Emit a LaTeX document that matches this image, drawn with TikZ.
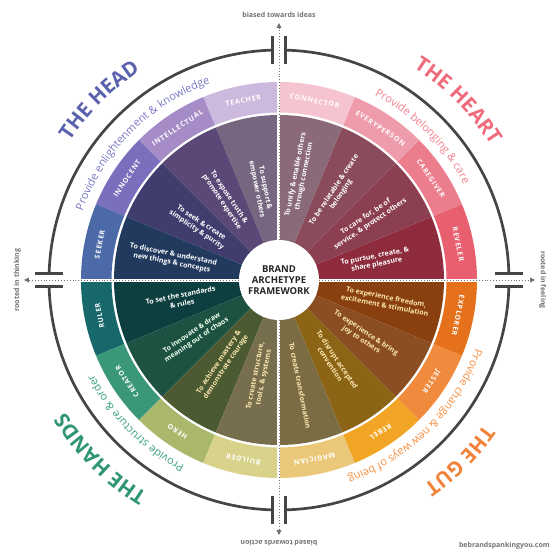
\documentclass[tikz,border=0pt]{standalone}
\usepackage{fontspec}
\setmainfont{Open Sans}
\newfontfamily\ringfont[LetterSpace=12]{Open Sans}
\usetikzlibrary{decorations.text,arrows.meta}

\definecolor{teachR}{HTML}{CDB9DD}\definecolor{teachW}{HTML}{766680}
\definecolor{intelR}{HTML}{A58CC7}\definecolor{intelW}{HTML}{5B4876}
\definecolor{innoR}{HTML}{7A6FBD}\definecolor{innoW}{HTML}{403D6E}
\definecolor{seekR}{HTML}{4D6AA8}\definecolor{seekW}{HTML}{213A5E}
\definecolor{connR}{HTML}{F6C4D0}\definecolor{connW}{HTML}{8A6A78}
\definecolor{everyR}{HTML}{EE9CAB}\definecolor{everyW}{HTML}{8A4C5C}
\definecolor{careR}{HTML}{EC7D8D}\definecolor{careW}{HTML}{8C3F50}
\definecolor{revR}{HTML}{E85F70}\definecolor{revW}{HTML}{8E2C3E}
\definecolor{explR}{HTML}{E5711D}\definecolor{explW}{HTML}{8A3F0E}
\definecolor{jestR}{HTML}{F08A3C}\definecolor{jestW}{HTML}{8A4E22}
\definecolor{rebR}{HTML}{F2A524}\definecolor{rebW}{HTML}{8C6416}
\definecolor{magR}{HTML}{EBC879}\definecolor{magW}{HTML}{7C6C44}
\definecolor{rulR}{HTML}{17686A}\definecolor{rulW}{HTML}{0E3F40}
\definecolor{creR}{HTML}{3B977A}\definecolor{creW}{HTML}{1D5242}
\definecolor{heroR}{HTML}{A9B86B}\definecolor{heroW}{HTML}{4B5A30}
\definecolor{buildR}{HTML}{D9D28B}\definecolor{buildW}{HTML}{776E4E}
\definecolor{headT}{HTML}{5A62AD}\definecolor{headS}{HTML}{7877C6}
\definecolor{heartT}{HTML}{EF6B7B}\definecolor{heartS}{HTML}{F27E8B}
\definecolor{gutT}{HTML}{F0823A}\definecolor{gutS}{HTML}{F68E3F}
\definecolor{handsT}{HTML}{2F9572}\definecolor{handsS}{HTML}{3AA27C}
\definecolor{cream}{HTML}{FBE7B0}
\definecolor{arcgray}{HTML}{454545}
\definecolor{axisgray}{HTML}{727272}

\tikzstyle{ringlbl}=[font=\ringfont\bfseries\fontsize{7}{8}\selectfont,text=white,inner sep=0pt]
\tikzstyle{goal}=[font=\bfseries\fontsize{7}{8.5}\selectfont,align=center,inner sep=0pt]
\tikzstyle{bigarc}=[line width=2.7pt,draw=arcgray]
\tikzstyle{bar}=[line width=3.3pt,draw=arcgray]
\tikzstyle{gap}=[line width=3pt,draw=white]
\tikzstyle{axis}=[dotted,line width=0.9pt,draw=axisgray,-{Triangle[width=5pt,length=5pt]}]
\tikzstyle{axislbl}=[font=\bfseries\fontsize{7}{8}\selectfont,text=axisgray,inner sep=0pt]

\begin{document}
\begin{tikzpicture}[x=1pt,y=1pt]
\useasboundingbox (-279,-280) rectangle (281,280);

% the head
\foreach \a/\rc/\wc/\nm/\ds in {90/teachR/teachW/TEACHER/{To support \&\\empower others},
  112.5/intelR/intelW/INTELLECTUAL/{To expose truth \&\\promote expertise},
  135/innoR/innoW/INNOCENT/{To seek \& create\\simplicity \& purity},
  157.5/seekR/seekW/SEEKER/{To discover \& understand\\new things \& concepts}}{
  \fill[\wc] (0,0) -- (\a:165) arc[start angle=\a, end angle=\a+22.5, radius=165] -- cycle;
  \fill[\rc] (\a:167.5) arc[start angle=\a, end angle=\a+22.5, radius=167.5] -- ({\a+22.5}:198) arc[start angle=\a+22.5, end angle=\a, radius=198] -- cycle;
  \node[ringlbl, rotate=\a+11.25-90] (r-\nm) at ({\a+11.25}:182.75) {\nm};
  \node[goal, text=white, anchor=east, rotate=\a+191.25] (g-\nm) at ({\a+11.25}:64) {\ds};
}
% the heart
\foreach \a/\rc/\wc/\nm/\ds in {0/revR/revW/REVELER/{To pursue, create, \&\\share pleasure},
  22.5/careR/careW/CAREGIVER/{To care for, be of\\service, \& protect others},
  45/everyR/everyW/EVERYPERSON/{To be relatable \& create\\belonging},
  67.5/connR/connW/CONNECTOR/{To unify \& enable others\\through connection}}{
  \fill[\wc] (0,0) -- (\a:165) arc[start angle=\a, end angle=\a+22.5, radius=165] -- cycle;
  \fill[\rc] (\a:167.5) arc[start angle=\a, end angle=\a+22.5, radius=167.5] -- ({\a+22.5}:198) arc[start angle=\a+22.5, end angle=\a, radius=198] -- cycle;
  \node[ringlbl, rotate=\a+11.25-90] (r-\nm) at ({\a+11.25}:182.75) {\nm};
  \node[goal, text=white, anchor=west, rotate=\a+11.25] (g-\nm) at ({\a+11.25}:64) {\ds};
}
% the gut
\foreach \a/\rc/\wc/\nm/\ds in {-22.5/explR/explW/EXPLORER/{To experience freedom,\\excitement \& stimulation},
  -45/jestR/jestW/JESTER/{To experience \& bring\\joy to others},
  -67.5/rebR/rebW/REBEL/{To disrupt accepted\\convention},
  -90/magR/magW/MAGICIAN/{To create transformation}}{
  \fill[\wc] (0,0) -- (\a:165) arc[start angle=\a, end angle=\a+22.5, radius=165] -- cycle;
  \fill[\rc] (\a:167.5) arc[start angle=\a, end angle=\a+22.5, radius=167.5] -- ({\a+22.5}:198) arc[start angle=\a+22.5, end angle=\a, radius=198] -- cycle;
  \node[ringlbl, rotate=\a+11.25-90] (r-\nm) at ({\a+11.25}:182.75) {\nm};
  \node[goal, text=cream, anchor=west, rotate=\a+11.25] (g-\nm) at ({\a+11.25}:64) {\ds};
}
% the hands
\foreach \a/\rc/\wc/\nm/\tc/\ds in {180/rulR/rulW/RULER/white/{To set the standards\\\& rules},
  202.5/creR/creW/CREATOR/green!8/{To innovate \& draw\\meaning out of chaos},
  225/heroR/heroW/HERO/cream/{To achieve mastery \&\\demonstrate courage},
  247.5/buildR/buildW/BUILDER/cream/{To create structure,\\tools, \& systems}}{
  \fill[\wc] (0,0) -- (\a:165) arc[start angle=\a, end angle=\a+22.5, radius=165] -- cycle;
  \fill[\rc] (\a:167.5) arc[start angle=\a, end angle=\a+22.5, radius=167.5] -- ({\a+22.5}:198) arc[start angle=\a+22.5, end angle=\a, radius=198] -- cycle;
  \node[ringlbl, rotate=\a+11.25-90] (r-\nm) at ({\a+11.25}:182.75) {\nm};
  \node[goal, text=\tc, anchor=east, rotate=\a+191.25] (g-\nm) at ({\a+11.25}:64) {\ds};
}

\foreach \q in {0,90,180,270}
  \draw[gap] (0,0) -- (\q:199);

\node[circle,fill=white,minimum size=80pt,inner sep=0pt,align=center,
  font=\bfseries\fontsize{9.5}{11}\selectfont,text=black!85] (O) at (0,0) {BRAND\\ARCHETYPE\\FRAMEWORK};

\coordinate (ideas) at (0,257);
\coordinate (action) at (0,-255);
\coordinate (thinking) at (-255,0);
\coordinate (feeling) at (256,0);
\draw[axis] (O) -- (ideas);
\draw[axis] (O) -- (action);
\draw[axis] (O) -- (thinking);
\draw[axis] (O) -- (feeling);
\node[axislbl, anchor=south] (l-ideas) at ([yshift=5pt]ideas) {biased towards ideas};
\node[axislbl, anchor=south, rotate=180] (l-action) at ([yshift=-5pt]action) {biased towards action};
\node[axislbl, anchor=south, rotate=90] (l-thinking) at ([xshift=-3pt]thinking) {rooted in thinking};
\node[axislbl, anchor=south, rotate=-90] (l-feeling) at ([xshift=4pt]feeling) {rooted in feeling};

\foreach \q in {0,90,180,270}{
  \draw[bigarc] ({\q+1.6}:230) arc[start angle=\q+1.6, end angle=\q+88.4, radius=230];
  \draw[bar, rotate=\q] (6.5,216) -- (6.5,244);
  \draw[bar, rotate=\q] (-6.5,216) -- (-6.5,244);
}

\path[decorate, decoration={text along path, text align=center, text color=headS,
  text={|\fontsize{11}{13}\selectfont|Provide enlightenment {\&} knowledge}}]
  (180:208) arc[start angle=180, end angle=90, radius=208];
\path[decorate, decoration={text along path, text align=center, text color=heartS,
  text={|\fontsize{11}{13}\selectfont|Provide belonging {\&} care}}]
  (90:208) arc[start angle=90, end angle=0, radius=208];
\path[decorate, decoration={text along path, text align=center, text color=gutS,
  text={|\fontsize{11}{13}\selectfont|Provide change {\&} new ways of being}}]
  (0:208) arc[start angle=0, end angle=-90, radius=208];
\path[decorate, decoration={text along path, text align=center, text color=handsS,
  text={|\fontsize{11}{13}\selectfont|Provide structure {\&} order}}]
  (270:208) arc[start angle=270, end angle=180, radius=208];

\path[decorate, decoration={text along path, text align=center, text color=headT,
  text={|\fontsize{20.5}{24}\selectfont\bfseries|THE HEAD}}]
  (180:251) arc[start angle=180, end angle=90, radius=251];
\path[decorate, decoration={text along path, text align=center, text color=heartT,
  text={|\fontsize{20.5}{24}\selectfont\bfseries|THE HEART}}]
  (90:251) arc[start angle=90, end angle=0, radius=251];
\path[decorate, decoration={text along path, text align=center, text color=gutT,
  text={|\fontsize{20.5}{24}\selectfont\bfseries|THE GUT}}]
  (0:251) arc[start angle=0, end angle=-90, radius=251];
\path[decorate, decoration={text along path, text align=center, text color=handsT,
  text={|\fontsize{20.5}{24}\selectfont\bfseries|THE HANDS}}]
  (270:251) arc[start angle=270, end angle=180, radius=251];

\node[axislbl, anchor=east] (credit) at (271,-266) {bebrandspankingyou.com};
\end{tikzpicture}
\end{document}
